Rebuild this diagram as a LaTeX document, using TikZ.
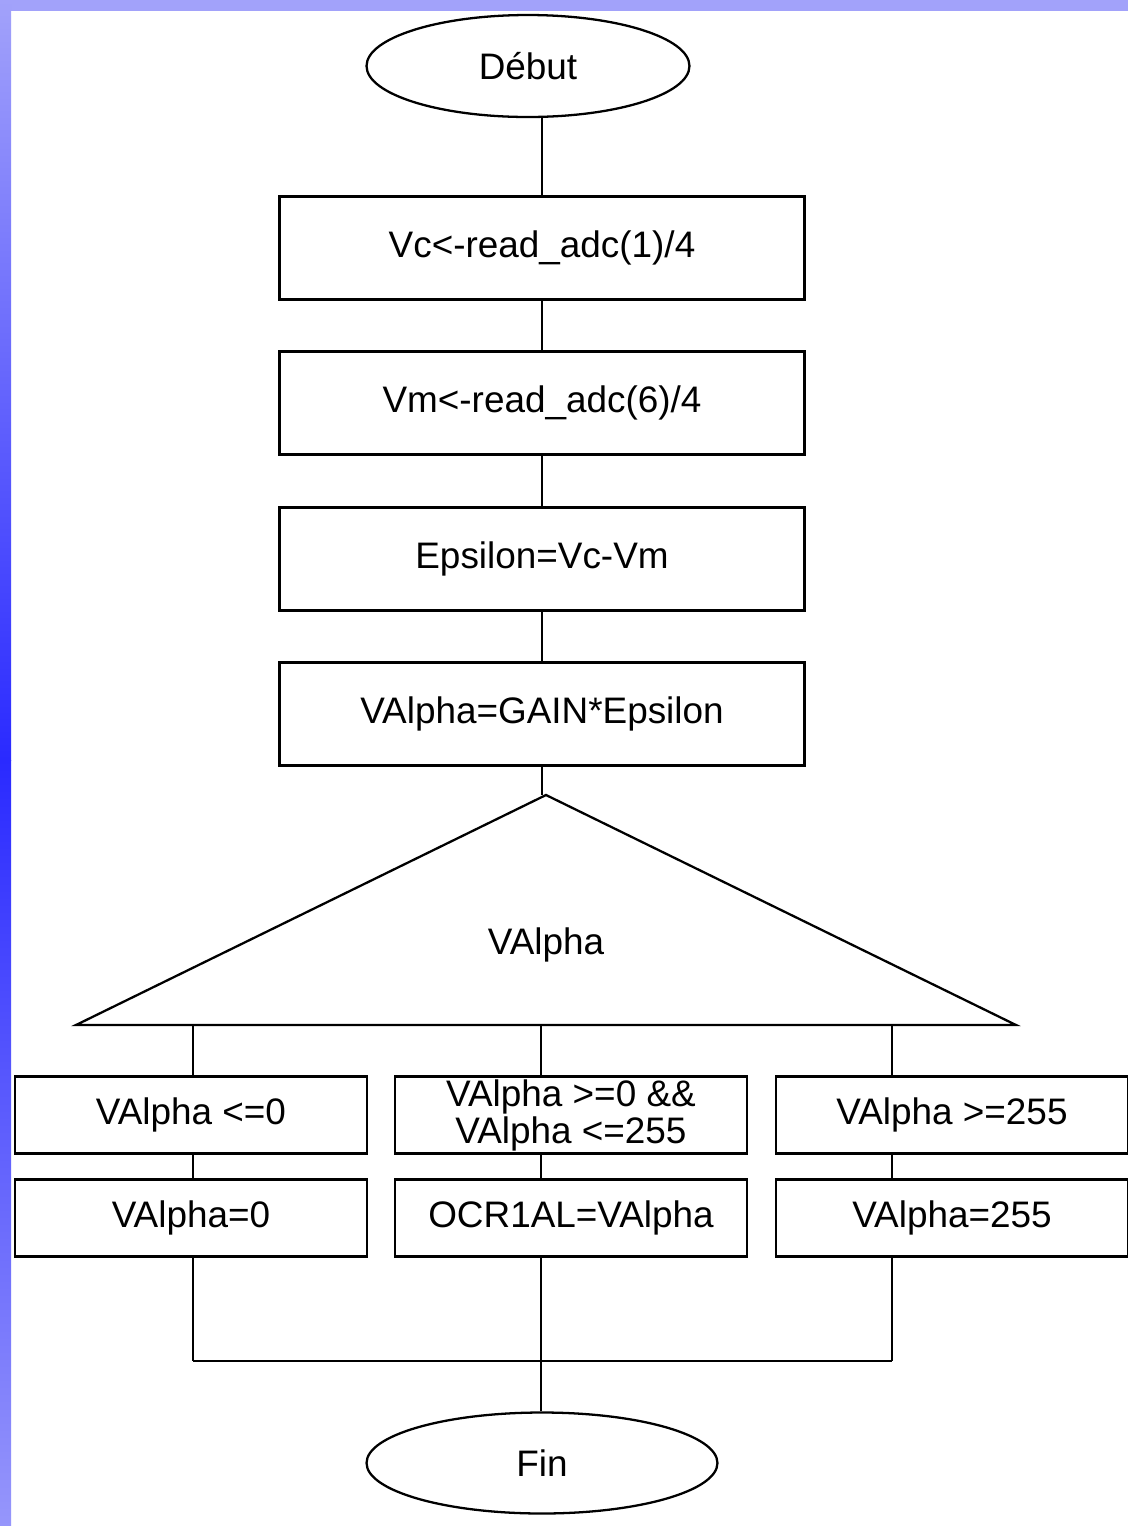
\documentclass[tikz,border=0pt]{standalone}
\usepackage{fontspec}
\setmainfont{Liberation Sans}
\usetikzlibrary{shapes.geometric}
\definecolor{paleblue}{RGB}{162,162,250}
\definecolor{deepblue}{RGB}{42,42,255}

\begin{document}
\begin{tikzpicture}[x=0.02cm,y=-0.02cm,line width=1.3pt,
    every node/.style={font=\fontsize{21}{21}\selectfont},
    bloc/.style={draw,rectangle,minimum width=10.5cm,minimum height=2.06cm,inner sep=0pt},
    cas/.style={draw,rectangle,minimum width=7.04cm,minimum height=1.54cm,inner sep=0pt,align=center},
    term/.style={draw,ellipse,inner sep=0pt}]

    \useasboundingbox (0,0) rectangle (1128,1526);
    \fill[white] (0,0) rectangle (1128,1526);
    \fill[paleblue] (0,0) rectangle (1128,11);
    \shade[top color=paleblue,bottom color=deepblue] (0,0) rectangle (11,760);
    \shade[top color=deepblue,bottom color=paleblue!90!deepblue] (0,760) rectangle (11,1526);

    \node[term,minimum width=6.46cm,minimum height=2.04cm] (debut) at (528,66) {Début};
    \node[bloc] (lire1) at (542,248) {Vc<-read\_adc(1)/4};
    \node[bloc] (lire2) at (542,403) {Vm<-read\_adc(6)/4};
    \node[bloc] (erreur) at (542,559) {Epsilon=Vc-Vm};
    \node[bloc] (gain) at (542,714) {VAlpha=GAIN*Epsilon};

    \coordinate (sommet) at (546,795);
    \coordinate (gauche) at (76,1025);
    \coordinate (droite) at (1016,1025);
    \node (selon) at (546,945) {VAlpha};

    \node[cas] (cas1) at (191,1115) {VAlpha <=0};
    \node[cas] (cas2) at (571,1115) {VAlpha >=0 \&\&\\VAlpha <=255};
    \node[cas] (cas3) at (952,1115) {VAlpha >=255};
    \node[cas] (act1) at (191,1218) {VAlpha=0};
    \node[cas] (act2) at (571,1218) {OCR1AL=VAlpha};
    \node[cas] (act3) at (952,1218) {VAlpha=255};

    \node[term,minimum width=7.02cm,minimum height=2.02cm] (fin) at (542,1463) {Fin};

    \draw (lire1.north) -- (lire1.north |- debut.south);
    \draw (lire1) -- (lire2);
    \draw (lire2) -- (erreur);
    \draw (erreur) -- (gain);
    \draw (gain.south) -- (gain.south |- sommet);
    \draw (gauche) -- (sommet) -- (droite) -- cycle;

    \foreach \i/\x in {1/193,2/541,3/892} {
        \coordinate (b\i) at (\x,1025);
        \coordinate (j\i) at (\x,1361);
        \draw (b\i) -- (b\i |- cas\i.north);
        \draw (b\i |- cas\i.south) -- (b\i |- act\i.north);
        \draw (b\i |- act\i.south) -- (j\i);
    }
    \draw (j1) -- (j3);
    \draw (j2) -- (j2 |- fin.north);
\end{tikzpicture}
\end{document}
